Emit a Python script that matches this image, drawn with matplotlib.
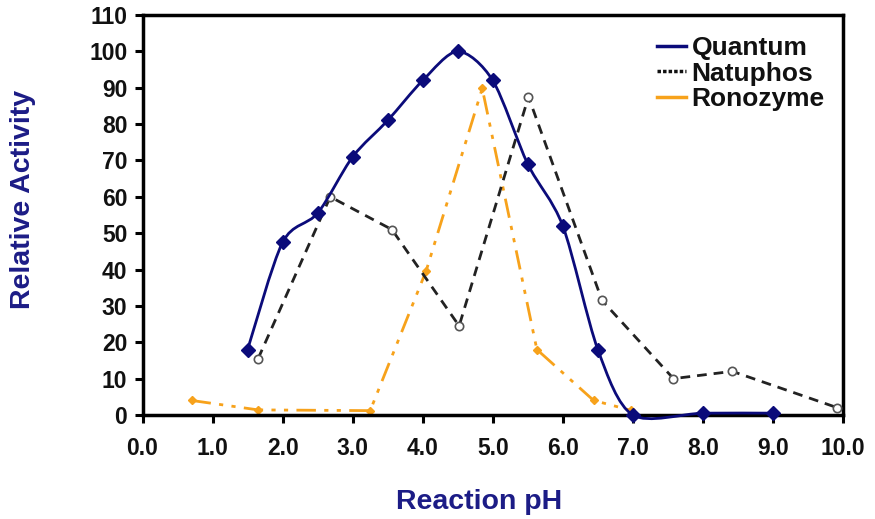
import matplotlib
matplotlib.use('Agg')
import matplotlib.pyplot as plt
import numpy as np
from matplotlib.path import Path
from matplotlib.patches import PathPatch
from matplotlib.lines import Line2D

plt.rcParams['font.family'] = ['Liberation Sans', 'DejaVu Sans']
plt.rcParams['font.weight'] = 'bold'

# data
quantum_ph = [1.5, 2.0, 2.5, 3.0, 3.5, 4.0, 4.5, 5.0, 5.5, 6.0, 6.5, 7.0, 8.0, 9.0]
quantum_act = [18, 47.5, 55.5, 71, 81, 92, 100, 92, 69, 52, 18, 0, 0.5, 0.5]

natuphos_ph = [1.65, 2.68, 3.56, 4.52, 5.51, 6.56, 7.58, 8.42, 9.92]
natuphos_act = [15.5, 60, 51, 24.5, 87.5, 31.5, 10, 12, 2]

ronozyme_ph = [0.7, 1.65, 3.25, 4.05, 4.85, 5.63, 6.44, 6.97]
ronozyme_act = [4, 1.4, 1.2, 39.7, 89.8, 18, 4, 1.3]

x_ticks = np.arange(0, 10.01, 1.0)
y_ticks = np.arange(0, 111, 10)

NAVY = '#0b0b7a'
ORANGE = '#f7a21b'
LABEL_COL = '#1c1c86'


def smooth_path(x, y, k=7.0):
    # excel-like smoothed line: bezier segments through the data points
    p = np.column_stack([x, y]).astype(float)
    n = len(p)
    verts = [p[0]]
    codes = [Path.MOVETO]
    for i in range(n - 1):
        p0 = p[i - 1] if i > 0 else p[i]
        p3 = p[i + 2] if i + 2 < n else p[i + 1]
        c1 = p[i] + (p[i + 1] - p0) / k
        c2 = p[i + 1] - (p3 - p[i]) / k
        verts += [c1, c2, p[i + 1]]
        codes += [Path.CURVE4] * 3
    return Path(verts, codes)


fig = plt.figure(figsize=(8.75, 5.19), dpi=100)
ax = fig.add_axes([0.1629, 0.2004, 0.8005, 0.7707])

# Ronozyme - straight dash-dot-dot
ax.plot(ronozyme_ph, ronozyme_act, color=ORANGE, linewidth=2,
        linestyle=(0, (7, 3, 1.5, 3, 1.5, 3)), marker='D', markersize=4,
        markerfacecolor=ORANGE, markeredgecolor=ORANGE, zorder=2)

# Natuphos - dashed black
ax.plot(natuphos_ph, natuphos_act, color='#222222', linewidth=2,
        linestyle=(0, (3.5, 2.5)), zorder=3)
ax.plot(natuphos_ph, natuphos_act, linestyle='none', marker='o', markersize=6,
        markerfacecolor='white', markeredgecolor='#555555', markeredgewidth=1.2, zorder=4)

# Quantum - smoothed solid navy
ax.add_patch(PathPatch(smooth_path(quantum_ph, quantum_act), facecolor='none',
                       edgecolor=NAVY, linewidth=2, zorder=5, clip_on=False))
ax.plot(quantum_ph, quantum_act, linestyle='none', marker='D', markersize=7.5,
        markerfacecolor=NAVY, markeredgecolor=NAVY, zorder=6, clip_on=False)

ax.set_xlim(0, 10)
ax.set_ylim(0, 110)
ax.set_xticks(x_ticks)
ax.set_xticklabels(['%.1f' % v for v in x_ticks])
ax.set_yticks(y_ticks)
ax.set_yticklabels([str(int(v)) for v in y_ticks])
ax.tick_params(axis='both', direction='out', length=6, width=2.2, labelsize=16.5,
               labelcolor='#111111', pad=5)
ax.tick_params(axis='x', pad=10)
for s in ax.spines.values():
    s.set_linewidth(2.5)
    s.set_color('black')

ax.set_xlabel('Reaction pH', fontsize=20.5, color=LABEL_COL, fontweight='bold', va='center')
ax.xaxis.set_label_coords(0.4804, -0.2175)
ax.set_ylabel('Relative Activity', fontsize=20.5, color=LABEL_COL, fontweight='bold', va='center')
ax.yaxis.set_label_coords(-0.1706, 0.54)

handles = [Line2D([], [], color=NAVY, linewidth=2.5),
           Line2D([], [], color='#111111', linewidth=2.5, linestyle=(0, (1, 0.6))),
           Line2D([], [], color=ORANGE, linewidth=2.5)]
leg = ax.legend(handles, ['Quantum', 'Natuphos', 'Ronozyme'], loc='upper right',
                frameon=False, fontsize=19, handlelength=1.1, handletextpad=0.2,
                labelspacing=0.05, borderaxespad=0.3, bbox_to_anchor=(1.0, 0.993))
for t in leg.get_texts():
    t.set_fontweight('bold')
    t.set_color('#111111')

fig.savefig('out.png', dpi=100)
